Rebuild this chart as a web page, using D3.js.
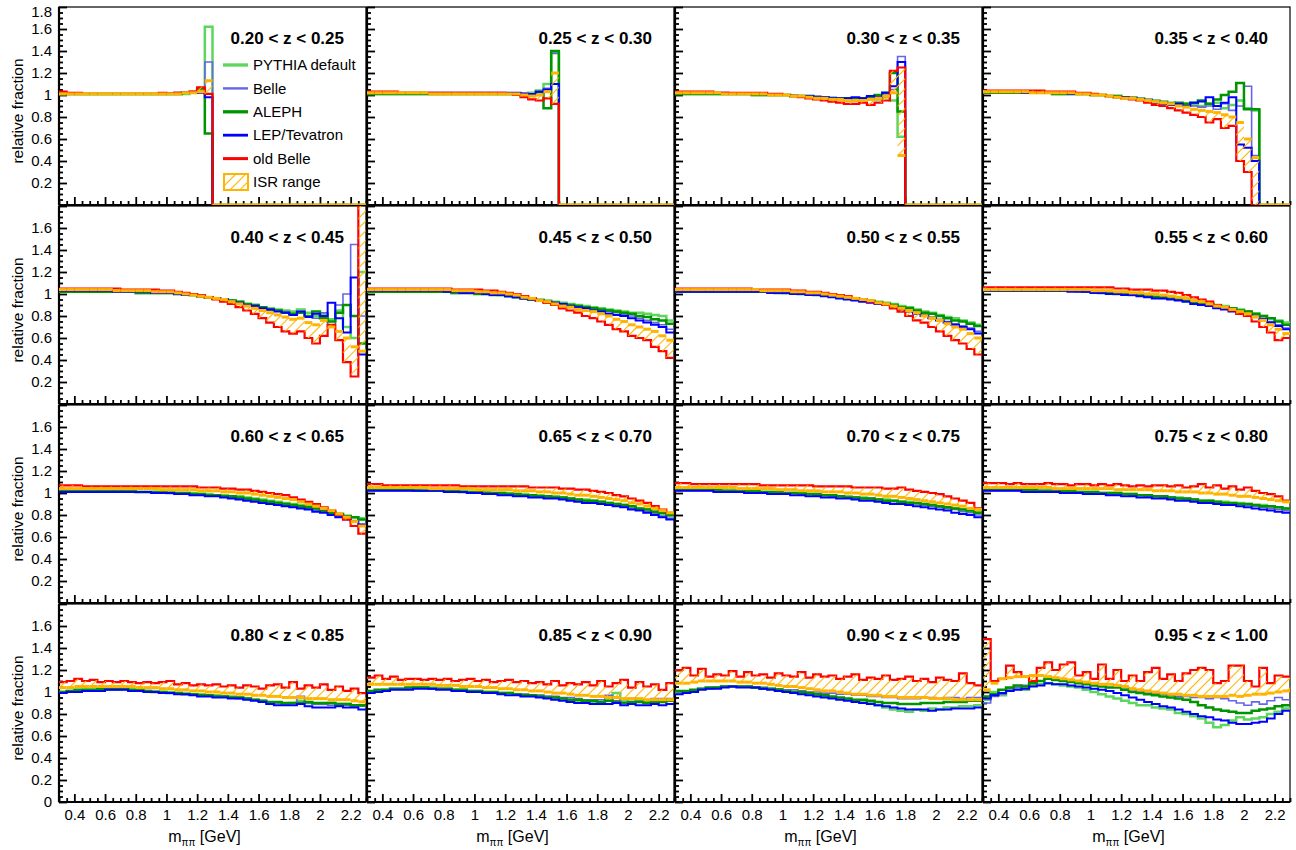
<!DOCTYPE html>
<html>
<head>
<meta charset="utf-8">
<script src="https://cdn.jsdelivr.net/npm/d3@7"></script>
<style>
  body { margin: 0; background: #fff; }
  svg { display: block; font-family: "Liberation Sans", Arial, Helvetica, sans-serif; }
  .axis text { font-size: 15px; font-family: "Liberation Sans", Arial, sans-serif; fill: #000; }
  .axis line { stroke: #000; stroke-width: 1.8; }
</style>
</head>
<body>
<div id="chart"></div>
<script>
// z bins, one panel each
const zEdges = [0.20, 0.25, 0.30, 0.35, 0.40, 0.45, 0.50, 0.55, 0.60, 0.65, 0.70, 0.75, 0.80, 0.85, 0.90, 0.95, 1.00]
// m_pipi bin edges (GeV)
const massEdges = d3.range(41).map(i => +(0.3 + i * 0.05).toFixed(2))
const seriesNames = ['PYTHIA default', 'Belle', 'ALEPH', 'LEP/Tevatron', 'old Belle', 'ISR range']

// relative fraction per mass bin, one row per z panel
const pythiaDefault = [
  [1.01,1.01,1.01,1.01,1.01,1.01,1.01,1.01,1.01,1.01, 1.01,1.01,1.01,1.01,1.01,1.01,1.01,1.02,1.04,1.62, 0,0,0,0,0,0,0,0,0,0, 0,0,0,0,0,0,0,0,0,0],
  [1.01,1.01,1.01,1.01,1.01,1.01,1.01,1.01,1.01,1.01, 1.01,1.01,1.01,1.01,1.01,1.01,1.01,1.01,1.01,1.01, 1.01,1.02,1.04,1.10,1.38,0,0,0,0,0, 0,0,0,0,0,0,0,0,0,0],
  [1.01,1.01,1.01,1.01,1.01,1.01,1.01,1.01,1.01,1.01, 1.00,1.00,1.00,1.00,1.00,0.99,0.99,0.99,0.98,0.98, 0.97,0.97,0.96,0.96,0.96,0.97,0.96,0.98,0.95,0.62, 0,0,0,0,0,0,0,0,0,0],
  [1.02,1.02,1.02,1.02,1.02,1.02,1.02,1.02,1.02,1.01, 1.01,1.01,1.01,1.01,1.00,1.00,0.99,0.99,0.98,0.98, 0.97,0.96,0.95,0.94,0.93,0.92,0.92,0.91,0.90,0.92, 0.93,0.88,0.91,0.95,0.88,0.86,0,0,0,0],
  [1.02,1.02,1.02,1.02,1.02,1.02,1.02,1.02,1.02,1.02, 1.01,1.01,1.01,1.01,1.01,1.00,1.00,0.99,0.98,0.97, 0.96,0.95,0.94,0.93,0.91,0.90,0.88,0.87,0.86,0.85, 0.84,0.86,0.83,0.80,0.82,0.77,0.85,0.70,0.60,1.20],
  [1.02,1.02,1.02,1.02,1.02,1.02,1.02,1.02,1.02,1.02, 1.02,1.01,1.01,1.01,1.01,1.00,1.00,0.99,0.99,0.98, 0.97,0.96,0.95,0.94,0.93,0.92,0.91,0.90,0.89,0.88, 0.87,0.86,0.85,0.84,0.83,0.83,0.82,0.81,0.80,0.76],
  [1.02,1.02,1.02,1.02,1.02,1.02,1.02,1.02,1.02,1.02, 1.02,1.02,1.02,1.02,1.01,1.01,1.01,1.00,1.00,0.99, 0.99,0.98,0.97,0.96,0.95,0.94,0.93,0.92,0.91,0.89, 0.88,0.86,0.84,0.83,0.81,0.79,0.78,0.76,0.74,0.72],
  [1.03,1.03,1.03,1.03,1.03,1.03,1.03,1.03,1.03,1.03, 1.03,1.03,1.03,1.02,1.02,1.02,1.01,1.01,1.00,1.00, 0.99,0.99,0.98,0.97,0.97,0.96,0.95,0.93,0.92,0.91, 0.90,0.89,0.87,0.86,0.84,0.82,0.80,0.78,0.76,0.74],
  [1.02,1.02,1.02,1.02,1.02,1.02,1.02,1.02,1.02,1.02, 1.01,1.01,1.01,1.01,1.01,1.00,1.00,1.00,0.99,0.99, 0.98,0.98,0.97,0.97,0.96,0.95,0.94,0.93,0.92,0.91, 0.90,0.89,0.88,0.86,0.85,0.83,0.81,0.79,0.78,0.77],
  [1.03,1.03,1.03,1.03,1.03,1.03,1.03,1.02,1.02,1.02, 1.02,1.02,1.02,1.01,1.01,1.01,1.00,1.00,1.00,0.99, 0.99,0.98,0.98,0.97,0.97,0.96,0.95,0.94,0.94,0.93, 0.92,0.91,0.90,0.89,0.88,0.86,0.85,0.83,0.81,0.79],
  [1.03,1.03,1.03,1.03,1.03,1.03,1.02,1.02,1.02,1.02, 1.02,1.01,1.01,1.01,1.00,1.00,1.00,0.99,0.99,0.98, 0.98,0.97,0.97,0.96,0.96,0.95,0.94,0.94,0.93,0.92, 0.92,0.91,0.90,0.89,0.88,0.87,0.86,0.85,0.83,0.82],
  [1.03,1.03,1.03,1.03,1.03,1.03,1.03,1.02,1.02,1.02, 1.02,1.02,1.01,1.01,1.01,1.00,1.00,1.00,0.99,0.99, 0.98,0.98,0.97,0.97,0.96,0.96,0.95,0.94,0.93,0.93, 0.92,0.92,0.91,0.91,0.90,0.89,0.89,0.88,0.87,0.86],
  [1.00,1.01,1.01,1.02,1.02,1.02,1.02,1.02,1.03,1.02, 1.02,1.01,1.01,1.00,1.00,0.99,0.99,0.98,0.98,0.97, 0.97,0.96,0.96,0.95,0.94,0.93,0.92,0.90,0.90,0.89, 0.90,0.92,0.90,0.89,0.89,0.90,0.89,0.89,0.88,0.88],
  [1.00,1.01,1.02,1.03,1.03,1.03,1.04,1.04,1.04,1.03, 1.03,1.02,1.02,1.01,1.01,1.00,1.00,0.99,0.99,0.98, 0.98,0.97,0.97,0.96,0.95,0.94,0.93,0.92,0.91,0.91, 0.91,0.92,0.99,0.91,0.91,0.92,0.91,0.90,0.92,0.92],
  [0.99,1.00,1.01,1.03,1.03,1.04,1.05,1.05,1.05,1.05, 1.04,1.04,1.03,1.02,1.01,1.00,0.99,0.98,0.97,0.96, 0.95,0.94,0.93,0.92,0.91,0.90,0.88,0.86,0.84,0.83, 0.82,0.84,0.83,0.85,0.84,0.86,0.86,0.87,0.87,0.88],
  [0.93,1.00,0.97,1.03,1.04,1.02,1.06,1.07,1.08,1.07, 1.06,1.05,1.04,1.02,1.00,0.98,0.96,0.94,0.92,0.90, 0.88,0.88,0.86,0.85,0.84,0.81,0.80,0.78,0.76,0.72, 0.68,0.70,0.74,0.77,0.75,0.76,0.77,0.80,0.82,0.85]
]

const belle = [
  [1.01,1.01,1.01,1.01,1.01,1.01,1.01,1.01,1.01,1.01, 1.01,1.01,1.01,1.01,1.02,1.02,1.02,1.03,1.03,1.30, 0,0,0,0,0,0,0,0,0,0, 0,0,0,0,0,0,0,0,0,0],
  [1.02,1.02,1.02,1.02,1.02,1.02,1.02,1.02,1.02,1.02, 1.02,1.02,1.02,1.02,1.02,1.02,1.02,1.02,1.02,1.02, 1.02,1.01,1.02,1.06,1.38,0,0,0,0,0, 0,0,0,0,0,0,0,0,0,0],
  [1.02,1.02,1.02,1.02,1.02,1.02,1.02,1.01,1.01,1.01, 1.01,1.01,1.01,1.00,1.00,1.00,0.99,0.99,0.99,0.98, 0.98,0.97,0.97,0.97,0.97,0.98,0.98,1.00,1.05,1.35, 0,0,0,0,0,0,0,0,0,0],
  [1.03,1.03,1.03,1.03,1.03,1.03,1.02,1.02,1.02,1.02, 1.02,1.02,1.01,1.01,1.01,1.00,0.99,0.99,0.98,0.98, 0.97,0.96,0.95,0.94,0.93,0.92,0.91,0.90,0.89,0.90, 0.87,0.92,0.86,0.90,1.08,0.45,0,0,0,0],
  [1.03,1.03,1.03,1.03,1.03,1.03,1.03,1.03,1.02,1.02, 1.02,1.02,1.02,1.01,1.01,1.01,1.00,0.99,0.98,0.97, 0.96,0.95,0.94,0.92,0.91,0.89,0.88,0.86,0.85,0.84, 0.82,0.83,0.80,0.78,0.83,0.72,0.90,1.00,1.45,0.80],
  [1.03,1.03,1.03,1.03,1.03,1.03,1.03,1.03,1.03,1.03, 1.02,1.02,1.02,1.01,1.01,1.00,1.00,0.99,0.98,0.97, 0.96,0.95,0.94,0.93,0.92,0.91,0.90,0.89,0.88,0.86, 0.85,0.84,0.83,0.81,0.80,0.78,0.76,0.74,0.72,0.68],
  [1.03,1.03,1.03,1.03,1.03,1.03,1.03,1.03,1.03,1.03, 1.02,1.02,1.02,1.02,1.01,1.01,1.00,1.00,0.99,0.99, 0.98,0.97,0.96,0.95,0.94,0.93,0.92,0.91,0.89,0.87, 0.85,0.83,0.81,0.79,0.77,0.75,0.73,0.71,0.69,0.66],
  [1.03,1.03,1.03,1.03,1.03,1.03,1.03,1.03,1.03,1.03, 1.03,1.03,1.02,1.02,1.02,1.01,1.01,1.00,1.00,0.99, 0.99,0.98,0.97,0.96,0.96,0.95,0.94,0.92,0.91,0.90, 0.88,0.87,0.85,0.84,0.82,0.80,0.78,0.75,0.72,0.69],
  [1.02,1.02,1.02,1.02,1.02,1.02,1.02,1.02,1.02,1.02, 1.01,1.01,1.01,1.01,1.00,1.00,0.99,0.99,0.98,0.98, 0.97,0.97,0.96,0.95,0.94,0.93,0.92,0.91,0.90,0.89, 0.88,0.87,0.86,0.84,0.83,0.81,0.79,0.77,0.75,0.72],
  [1.02,1.02,1.02,1.02,1.02,1.02,1.02,1.02,1.02,1.02, 1.01,1.01,1.01,1.01,1.00,1.00,0.99,0.99,0.99,0.98, 0.98,0.97,0.97,0.96,0.96,0.95,0.94,0.93,0.93,0.92, 0.91,0.90,0.89,0.88,0.86,0.85,0.83,0.81,0.79,0.77],
  [1.02,1.02,1.02,1.02,1.02,1.02,1.02,1.02,1.02,1.01, 1.01,1.01,1.01,1.00,1.00,1.00,0.99,0.99,0.98,0.98, 0.97,0.97,0.96,0.96,0.95,0.95,0.94,0.93,0.92,0.92, 0.91,0.90,0.89,0.88,0.87,0.86,0.85,0.83,0.82,0.80],
  [1.02,1.02,1.02,1.02,1.02,1.02,1.02,1.02,1.02,1.01, 1.01,1.01,1.01,1.00,1.00,1.00,0.99,0.99,0.99,0.98, 0.98,0.97,0.97,0.96,0.96,0.95,0.94,0.94,0.93,0.92, 0.92,0.91,0.90,0.90,0.89,0.88,0.87,0.86,0.85,0.84],
  [1.00,1.00,1.01,1.01,1.02,1.02,1.02,1.02,1.02,1.02, 1.01,1.01,1.00,1.00,0.99,0.99,0.98,0.98,0.97,0.97, 0.96,0.96,0.95,0.94,0.94,0.93,0.92,0.91,0.90,0.90, 0.90,0.96,0.90,0.89,0.89,0.88,0.88,0.88,0.87,0.87],
  [1.01,1.02,1.02,1.03,1.03,1.03,1.04,1.04,1.03,1.03, 1.03,1.02,1.02,1.01,1.01,1.00,1.00,0.99,0.99,0.98, 0.98,0.97,0.97,0.96,0.96,0.95,0.95,0.94,0.93,0.93, 0.93,0.97,0.92,0.93,0.94,0.93,0.93,0.94,0.94,0.94],
  [1.00,1.01,1.02,1.03,1.04,1.04,1.05,1.05,1.05,1.05, 1.04,1.04,1.03,1.03,1.02,1.02,1.01,1.00,1.00,0.99, 0.99,0.98,0.98,0.97,0.97,0.96,0.96,0.95,0.95,0.94, 0.94,0.94,0.95,0.95,0.94,0.95,0.95,0.94,0.95,0.95],
  [0.90,0.96,0.98,1.03,1.04,1.06,1.09,1.10,1.12,1.11, 1.10,1.10,1.09,1.08,1.08,1.07,1.07,1.06,1.04,1.02, 1.01,1.00,0.99,0.98,0.97,0.96,0.96,0.95,0.95,0.94, 0.95,0.94,0.92,0.90,0.88,0.91,0.89,0.92,0.95,0.93]
]

const aleph = [
  [1.01,1.01,1.01,1.01,1.01,1.01,1.01,1.01,1.01,1.01, 1.01,1.01,1.01,1.01,1.01,1.01,1.02,1.02,1.06,0.65, 0,0,0,0,0,0,0,0,0,0, 0,0,0,0,0,0,0,0,0,0],
  [1.01,1.01,1.01,1.01,1.01,1.01,1.01,1.01,1.01,1.01, 1.01,1.01,1.01,1.01,1.01,1.01,1.01,1.01,1.01,1.01, 1.00,1.00,1.03,0.88,1.40,0,0,0,0,0, 0,0,0,0,0,0,0,0,0,0],
  [1.01,1.01,1.01,1.01,1.01,1.01,1.01,1.01,1.01,1.01, 1.00,1.00,1.00,1.00,1.00,0.99,0.99,0.99,0.98,0.98, 0.97,0.97,0.97,0.96,0.97,0.98,1.00,1.02,1.20,0.85, 0,0,0,0,0,0,0,0,0,0],
  [1.02,1.02,1.02,1.02,1.02,1.02,1.02,1.02,1.02,1.01, 1.01,1.01,1.01,1.01,1.00,1.00,0.99,0.99,0.98,0.97, 0.96,0.95,0.94,0.93,0.92,0.93,0.92,0.93,0.95,0.92, 0.96,1.00,1.03,1.11,0.87,0.87,0,0,0,0],
  [1.02,1.02,1.02,1.02,1.02,1.02,1.02,1.02,1.02,1.02, 1.01,1.01,1.01,1.01,1.01,1.00,1.00,0.99,0.98,0.97, 0.96,0.95,0.94,0.93,0.91,0.90,0.88,0.86,0.85,0.83, 0.82,0.83,0.80,0.84,0.78,0.75,0.83,0.90,0.80,0.55],
  [1.02,1.02,1.02,1.02,1.02,1.02,1.02,1.02,1.02,1.02, 1.02,1.01,1.01,1.01,1.00,1.00,0.99,0.99,0.98,0.97, 0.96,0.95,0.94,0.93,0.92,0.91,0.90,0.89,0.88,0.87, 0.86,0.85,0.84,0.83,0.82,0.80,0.79,0.77,0.76,0.73],
  [1.02,1.02,1.02,1.02,1.02,1.02,1.02,1.02,1.02,1.02, 1.02,1.02,1.02,1.01,1.01,1.01,1.00,1.00,0.99,0.99, 0.98,0.97,0.96,0.95,0.94,0.93,0.92,0.91,0.90,0.88, 0.87,0.85,0.83,0.82,0.80,0.78,0.76,0.75,0.73,0.71],
  [1.03,1.03,1.03,1.03,1.03,1.03,1.03,1.03,1.03,1.03, 1.03,1.03,1.03,1.02,1.02,1.01,1.01,1.00,1.00,0.99, 0.99,0.98,0.97,0.97,0.96,0.95,0.94,0.93,0.92,0.91, 0.89,0.88,0.87,0.85,0.84,0.82,0.80,0.78,0.75,0.72],
  [1.02,1.02,1.02,1.02,1.02,1.02,1.02,1.02,1.02,1.02, 1.01,1.01,1.01,1.01,1.00,1.00,1.00,0.99,0.99,0.98, 0.98,0.97,0.97,0.96,0.95,0.94,0.93,0.92,0.91,0.90, 0.89,0.88,0.87,0.86,0.84,0.82,0.81,0.79,0.78,0.76],
  [1.03,1.03,1.03,1.03,1.03,1.03,1.02,1.02,1.02,1.02, 1.02,1.02,1.01,1.01,1.01,1.00,1.00,1.00,0.99,0.99, 0.98,0.98,0.97,0.97,0.96,0.96,0.95,0.94,0.93,0.93, 0.92,0.91,0.90,0.89,0.88,0.86,0.85,0.83,0.82,0.80],
  [1.03,1.03,1.03,1.03,1.03,1.03,1.02,1.02,1.02,1.02, 1.02,1.01,1.01,1.01,1.00,1.00,1.00,0.99,0.99,0.98, 0.98,0.97,0.96,0.96,0.95,0.95,0.94,0.93,0.93,0.92, 0.91,0.91,0.90,0.89,0.88,0.87,0.86,0.85,0.84,0.82],
  [1.03,1.03,1.03,1.03,1.03,1.03,1.03,1.02,1.02,1.02, 1.02,1.02,1.01,1.01,1.01,1.00,1.00,1.00,0.99,0.99, 0.98,0.98,0.97,0.97,0.96,0.95,0.95,0.94,0.93,0.93, 0.92,0.91,0.91,0.90,0.90,0.89,0.88,0.88,0.87,0.86],
  [1.00,1.01,1.02,1.02,1.02,1.03,1.03,1.03,1.03,1.02, 1.02,1.01,1.00,1.00,0.99,0.99,0.98,0.98,0.97,0.97, 0.96,0.96,0.95,0.95,0.94,0.93,0.92,0.91,0.91,0.90, 0.90,0.90,0.91,0.90,0.90,0.90,0.89,0.89,0.88,0.88],
  [1.01,1.02,1.02,1.03,1.03,1.04,1.04,1.04,1.03,1.03, 1.03,1.02,1.02,1.01,1.01,1.00,1.00,0.99,0.99,0.98, 0.97,0.97,0.96,0.95,0.95,0.94,0.93,0.93,0.92,0.92, 0.91,0.92,0.91,0.90,0.91,0.91,0.90,0.91,0.91,0.92],
  [1.01,1.01,1.02,1.03,1.04,1.04,1.05,1.05,1.05,1.05, 1.04,1.03,1.03,1.02,1.01,1.00,1.00,0.99,0.98,0.97, 0.96,0.95,0.94,0.93,0.93,0.92,0.91,0.90,0.90,0.89, 0.89,0.89,0.90,0.90,0.90,0.91,0.91,0.91,0.92,0.92],
  [0.96,0.98,1.02,1.04,1.06,1.05,1.08,1.10,1.12,1.11, 1.10,1.09,1.08,1.07,1.06,1.05,1.04,1.04,1.02,1.00, 0.99,0.98,0.97,0.96,0.95,0.94,0.93,0.91,0.88,0.86, 0.84,0.83,0.82,0.81,0.81,0.83,0.84,0.85,0.87,0.88]
]

const lepTevatron = [
  [1.01,1.01,1.01,1.01,1.01,1.01,1.01,1.01,1.01,1.01, 1.01,1.01,1.01,1.01,1.01,1.02,1.02,1.03,1.02,0.98, 0,0,0,0,0,0,0,0,0,0, 0,0,0,0,0,0,0,0,0,0],
  [1.02,1.02,1.02,1.02,1.02,1.02,1.02,1.02,1.02,1.02, 1.02,1.02,1.02,1.02,1.02,1.02,1.02,1.02,1.02,1.02, 1.01,1.01,1.03,1.05,1.10,0,0,0,0,0, 0,0,0,0,0,0,0,0,0,0],
  [1.02,1.02,1.02,1.02,1.02,1.02,1.02,1.01,1.01,1.01, 1.01,1.01,1.00,1.00,1.00,0.99,0.99,0.99,0.98,0.98, 0.97,0.97,0.97,0.98,0.97,0.99,0.98,1.02,1.08,1.30, 0,0,0,0,0,0,0,0,0,0],
  [1.03,1.03,1.03,1.03,1.03,1.02,1.02,1.02,1.02,1.02, 1.02,1.01,1.01,1.01,1.00,1.00,0.99,0.98,0.98,0.97, 0.96,0.95,0.93,0.92,0.91,0.92,0.90,0.93,0.94,0.98, 0.90,0.93,0.98,0.55,0.52,0.40,0,0,0,0],
  [1.03,1.03,1.03,1.03,1.03,1.03,1.03,1.02,1.02,1.02, 1.02,1.02,1.01,1.01,1.01,1.00,0.99,0.99,0.98,0.97, 0.96,0.95,0.93,0.92,0.90,0.89,0.87,0.86,0.84,0.83, 0.81,0.84,0.79,0.82,0.80,0.92,0.78,0.65,1.15,0.45],
  [1.03,1.03,1.03,1.03,1.03,1.03,1.03,1.03,1.03,1.03, 1.02,1.02,1.01,1.01,1.01,1.00,0.99,0.99,0.98,0.97, 0.96,0.95,0.94,0.93,0.92,0.91,0.89,0.88,0.87,0.85, 0.84,0.82,0.81,0.80,0.78,0.76,0.74,0.72,0.70,0.65],
  [1.02,1.02,1.02,1.02,1.02,1.02,1.02,1.02,1.02,1.02, 1.02,1.02,1.01,1.01,1.01,1.00,1.00,0.99,0.99,0.98, 0.97,0.96,0.95,0.94,0.93,0.92,0.91,0.90,0.88,0.86, 0.84,0.82,0.80,0.78,0.76,0.74,0.72,0.70,0.68,0.64],
  [1.03,1.03,1.03,1.03,1.03,1.03,1.03,1.03,1.03,1.03, 1.03,1.02,1.02,1.02,1.01,1.01,1.00,1.00,0.99,0.99, 0.98,0.97,0.96,0.96,0.95,0.94,0.93,0.91,0.90,0.89, 0.87,0.86,0.84,0.83,0.81,0.79,0.77,0.74,0.71,0.68],
  [1.01,1.01,1.01,1.01,1.01,1.01,1.01,1.01,1.01,1.01, 1.01,1.01,1.00,1.00,1.00,0.99,0.99,0.98,0.98,0.97, 0.97,0.96,0.95,0.94,0.93,0.92,0.91,0.90,0.89,0.88, 0.87,0.86,0.85,0.83,0.82,0.80,0.78,0.76,0.74,0.71],
  [1.02,1.02,1.02,1.02,1.02,1.02,1.02,1.02,1.02,1.02, 1.01,1.01,1.01,1.00,1.00,0.99,0.99,0.98,0.98,0.97, 0.97,0.96,0.96,0.95,0.95,0.94,0.93,0.92,0.91,0.91, 0.90,0.89,0.88,0.87,0.85,0.84,0.82,0.80,0.78,0.76],
  [1.02,1.02,1.02,1.02,1.02,1.01,1.01,1.01,1.01,1.00, 1.00,1.00,0.99,0.99,0.99,0.98,0.98,0.97,0.97,0.96, 0.96,0.95,0.95,0.94,0.93,0.93,0.92,0.91,0.90,0.90, 0.89,0.88,0.87,0.86,0.85,0.84,0.82,0.81,0.80,0.78],
  [1.02,1.02,1.02,1.02,1.02,1.01,1.01,1.01,1.01,1.01, 1.00,1.00,1.00,0.99,0.99,0.99,0.98,0.98,0.97,0.97, 0.96,0.96,0.95,0.95,0.94,0.93,0.93,0.92,0.91,0.91, 0.90,0.89,0.89,0.88,0.87,0.86,0.85,0.84,0.83,0.82],
  [0.99,1.00,1.00,1.01,1.01,1.01,1.02,1.02,1.02,1.01, 1.01,1.00,1.00,0.99,0.99,0.98,0.98,0.97,0.96,0.96, 0.95,0.95,0.94,0.94,0.93,0.92,0.91,0.89,0.88,0.88, 0.88,0.89,0.87,0.86,0.86,0.86,0.87,0.86,0.86,0.84],
  [0.99,1.00,1.01,1.02,1.02,1.02,1.03,1.03,1.03,1.02, 1.02,1.01,1.01,1.00,1.00,0.99,0.99,0.98,0.97,0.97, 0.96,0.96,0.95,0.94,0.93,0.92,0.91,0.90,0.90,0.89, 0.89,0.89,0.90,0.88,0.89,0.88,0.88,0.89,0.88,0.89],
  [0.98,0.99,1.00,1.02,1.03,1.03,1.04,1.05,1.04,1.04, 1.04,1.03,1.02,1.01,1.00,0.99,0.98,0.97,0.96,0.95, 0.94,0.93,0.92,0.91,0.90,0.89,0.88,0.87,0.86,0.85, 0.84,0.84,0.84,0.83,0.84,0.84,0.85,0.85,0.85,0.86],
  [0.94,0.97,0.99,1.01,1.02,1.03,1.05,1.06,1.08,1.07, 1.07,1.06,1.05,1.04,1.03,1.02,1.01,0.99,0.97,0.95, 0.93,0.91,0.89,0.87,0.86,0.84,0.82,0.80,0.78,0.77, 0.75,0.74,0.72,0.71,0.71,0.72,0.73,0.76,0.80,0.83]
]

const oldBelle = [
  [1.03,1.02,1.02,1.01,1.01,1.01,1.01,1.01,1.01,1.01, 1.01,1.01,1.01,1.02,1.01,1.02,1.02,1.03,1.07,1.01, 0,0,0,0,0,0,0,0,0,0, 0,0,0,0,0,0,0,0,0,0],
  [1.03,1.03,1.03,1.03,1.02,1.02,1.02,1.02,1.02,1.02, 1.02,1.02,1.02,1.02,1.02,1.02,1.02,1.02,1.01,1.00, 0.98,0.96,0.95,0.97,0.92,0,0,0,0,0, 0,0,0,0,0,0,0,0,0,0],
  [1.03,1.03,1.03,1.03,1.03,1.02,1.02,1.02,1.02,1.02, 1.02,1.02,1.01,1.01,1.00,0.99,0.98,0.97,0.96,0.95, 0.94,0.93,0.92,0.92,0.93,0.91,0.93,0.95,1.22,1.25, 0,0,0,0,0,0,0,0,0,0],
  [1.04,1.04,1.04,1.04,1.04,1.04,1.04,1.04,1.03,1.03, 1.03,1.03,1.02,1.02,1.01,1.00,0.99,0.98,0.97,0.96, 0.95,0.93,0.91,0.90,0.88,0.86,0.84,0.82,0.80,0.75, 0.78,0.70,0.72,0.40,0.30,0,0,0,0,0],
  [1.05,1.05,1.05,1.05,1.05,1.05,1.05,1.05,1.04,1.04, 1.04,1.04,1.04,1.03,1.03,1.02,1.01,1.00,0.99,0.97, 0.95,0.93,0.91,0.88,0.85,0.82,0.78,0.74,0.70,0.66, 0.64,0.66,0.60,0.55,0.62,0.72,0.58,0.38,0.25,1.85],
  [1.05,1.05,1.05,1.05,1.05,1.05,1.05,1.05,1.05,1.05, 1.05,1.04,1.04,1.04,1.04,1.03,1.03,1.02,1.01,1.00, 0.98,0.96,0.94,0.92,0.90,0.87,0.85,0.83,0.80,0.78, 0.75,0.72,0.68,0.66,0.62,0.60,0.58,0.52,0.48,0.42],
  [1.05,1.05,1.05,1.05,1.05,1.05,1.05,1.05,1.05,1.05, 1.04,1.04,1.04,1.04,1.04,1.03,1.03,1.02,1.02,1.01, 1.00,0.99,0.98,0.96,0.95,0.93,0.92,0.90,0.87,0.84, 0.80,0.76,0.74,0.70,0.66,0.62,0.58,0.55,0.50,0.45],
  [1.06,1.06,1.06,1.06,1.06,1.06,1.06,1.06,1.06,1.06, 1.06,1.06,1.06,1.06,1.06,1.06,1.06,1.05,1.05,1.04, 1.04,1.04,1.03,1.03,1.02,1.01,0.99,0.97,0.95,0.93, 0.90,0.88,0.85,0.82,0.80,0.75,0.70,0.65,0.58,0.60],
  [1.07,1.07,1.07,1.06,1.06,1.06,1.06,1.06,1.06,1.06, 1.06,1.06,1.06,1.06,1.06,1.06,1.06,1.06,1.05,1.05, 1.05,1.04,1.04,1.03,1.03,1.02,1.01,1.00,0.99,0.98, 0.96,0.94,0.92,0.90,0.87,0.84,0.80,0.76,0.70,0.63],
  [1.08,1.08,1.07,1.07,1.07,1.07,1.07,1.07,1.07,1.07, 1.07,1.07,1.06,1.06,1.06,1.06,1.06,1.06,1.06,1.06, 1.06,1.05,1.05,1.05,1.05,1.04,1.04,1.03,1.03,1.02, 1.01,1.00,0.98,0.97,0.95,0.93,0.91,0.88,0.85,0.82],
  [1.09,1.09,1.08,1.08,1.08,1.08,1.08,1.08,1.08,1.08, 1.08,1.07,1.07,1.07,1.07,1.07,1.07,1.07,1.06,1.06, 1.06,1.06,1.06,1.05,1.05,1.05,1.05,1.04,1.04,1.05, 1.03,1.02,1.01,1.00,0.99,0.97,0.95,0.93,0.91,0.86],
  [1.09,1.09,1.09,1.08,1.09,1.08,1.08,1.08,1.09,1.08, 1.08,1.07,1.08,1.08,1.07,1.08,1.07,1.08,1.07,1.06, 1.07,1.06,1.07,1.07,1.06,1.07,1.05,1.06,1.08,1.05, 1.07,1.04,1.06,1.03,1.05,1.02,1.00,0.99,0.97,0.93],
  [1.09,1.10,1.12,1.10,1.11,1.09,1.10,1.09,1.10,1.09, 1.08,1.09,1.08,1.09,1.10,1.07,1.08,1.06,1.07,1.06, 1.07,1.05,1.06,1.04,1.06,1.05,1.03,1.06,1.07,1.04, 1.09,1.03,1.06,1.04,1.07,1.02,1.05,1.01,1.03,0.99],
  [1.13,1.15,1.12,1.14,1.11,1.12,1.12,1.11,1.12,1.11, 1.12,1.10,1.11,1.12,1.10,1.11,1.09,1.10,1.11,1.09, 1.10,1.08,1.09,1.07,1.10,1.06,1.08,1.07,1.09,1.06, 1.10,1.05,1.08,1.11,1.04,1.09,1.05,1.07,1.02,1.08],
  [1.20,1.22,1.15,1.21,1.14,1.16,1.15,1.19,1.14,1.18, 1.15,1.16,1.13,1.17,1.15,1.14,1.18,1.13,1.16,1.14, 1.15,1.12,1.14,1.16,1.11,1.13,1.12,1.15,1.11,1.12, 1.14,1.10,1.12,1.09,1.13,1.11,1.10,1.17,1.08,1.06],
  [1.48,1.10,1.12,1.24,1.18,1.14,1.10,1.22,1.27,1.20, 1.25,1.27,1.15,1.18,1.12,1.25,1.12,1.20,1.10,1.15, 1.10,1.18,1.22,1.12,1.16,1.10,1.17,1.20,1.22,1.20, 1.08,1.10,1.24,1.24,1.10,1.05,1.22,1.08,1.15,1.14]
]

// ISR variation; the hatched band spans from this curve to old Belle
const isrRange = [
  [1.01,1.01,1.01,1.01,1.01,1.01,1.01,1.01,1.01,1.01, 1.01,1.01,1.01,1.01,1.01,1.01,1.02,1.02,1.03,1.13, 0,0,0,0,0,0,0,0,0,0, 0,0,0,0,0,0,0,0,0,0],
  [1.02,1.02,1.02,1.02,1.02,1.02,1.02,1.02,1.01,1.01, 1.01,1.01,1.01,1.01,1.01,1.01,1.01,1.01,1.01,1.01, 1.00,0.99,1.00,1.03,1.20,0,0,0,0,0, 0,0,0,0,0,0,0,0,0,0],
  [1.02,1.02,1.02,1.02,1.02,1.02,1.01,1.01,1.01,1.01, 1.01,1.01,1.00,1.00,1.00,0.99,0.99,0.98,0.97,0.97, 0.96,0.96,0.95,0.95,0.95,0.96,0.97,0.99,1.02,0.45, 0,0,0,0,0,0,0,0,0,0],
  [1.03,1.03,1.03,1.03,1.03,1.03,1.02,1.02,1.02,1.02, 1.02,1.02,1.01,1.01,1.00,1.00,0.99,0.98,0.97,0.97, 0.96,0.95,0.94,0.93,0.92,0.90,0.89,0.87,0.86,0.85, 0.84,0.82,0.80,0.75,0.60,0.43,0,0,0,0],
  [1.04,1.04,1.04,1.04,1.04,1.04,1.04,1.03,1.03,1.03, 1.03,1.03,1.02,1.02,1.02,1.01,1.00,0.99,0.98,0.97, 0.96,0.95,0.93,0.91,0.89,0.87,0.85,0.83,0.81,0.79, 0.77,0.78,0.74,0.72,0.76,0.70,0.66,0.60,0.52,0.48],
  [1.04,1.04,1.04,1.04,1.04,1.04,1.04,1.04,1.04,1.04, 1.04,1.03,1.03,1.03,1.02,1.02,1.01,1.01,1.00,0.99, 0.97,0.96,0.94,0.93,0.91,0.89,0.88,0.86,0.85,0.84, 0.82,0.80,0.77,0.75,0.72,0.70,0.68,0.66,0.62,0.58],
  [1.04,1.04,1.04,1.04,1.04,1.04,1.04,1.04,1.04,1.04, 1.04,1.03,1.03,1.03,1.03,1.02,1.02,1.01,1.01,1.00, 0.99,0.98,0.97,0.96,0.95,0.94,0.92,0.91,0.89,0.87, 0.85,0.83,0.80,0.78,0.76,0.73,0.70,0.68,0.64,0.60],
  [1.04,1.04,1.04,1.04,1.04,1.04,1.04,1.04,1.04,1.04, 1.04,1.04,1.04,1.04,1.03,1.03,1.03,1.02,1.02,1.01, 1.01,1.00,1.00,0.99,0.98,0.97,0.96,0.94,0.93,0.91, 0.89,0.88,0.86,0.84,0.82,0.79,0.76,0.72,0.68,0.64],
  [1.04,1.04,1.04,1.04,1.04,1.04,1.04,1.04,1.04,1.04, 1.04,1.04,1.04,1.03,1.03,1.03,1.03,1.03,1.02,1.02, 1.02,1.01,1.01,1.00,1.00,0.99,0.98,0.97,0.96,0.95, 0.94,0.92,0.90,0.88,0.86,0.84,0.81,0.78,0.74,0.70],
  [1.05,1.05,1.05,1.05,1.05,1.05,1.05,1.05,1.04,1.04, 1.04,1.04,1.04,1.04,1.03,1.03,1.03,1.03,1.03,1.02, 1.02,1.02,1.01,1.01,1.00,1.00,0.99,0.98,0.98,0.97, 0.96,0.95,0.94,0.93,0.91,0.90,0.88,0.86,0.84,0.82],
  [1.05,1.05,1.05,1.05,1.05,1.05,1.05,1.05,1.04,1.04, 1.04,1.04,1.04,1.03,1.03,1.03,1.02,1.02,1.02,1.01, 1.01,1.01,1.00,1.00,0.99,0.99,0.98,0.97,0.97,0.96, 0.95,0.94,0.93,0.92,0.91,0.90,0.89,0.88,0.86,0.85],
  [1.05,1.05,1.05,1.05,1.05,1.05,1.05,1.05,1.05,1.04, 1.04,1.04,1.04,1.04,1.04,1.04,1.04,1.03,1.03,1.03, 1.03,1.03,1.02,1.02,1.02,1.01,1.01,1.01,1.00,1.00, 0.99,0.99,0.98,0.97,0.97,0.96,0.95,0.94,0.93,0.92],
  [1.04,1.04,1.05,1.05,1.05,1.05,1.05,1.05,1.05,1.05, 1.04,1.04,1.04,1.03,1.03,1.02,1.02,1.01,1.01,1.00, 1.00,0.99,0.99,0.98,0.98,0.97,0.97,0.96,0.96,0.95, 0.95,0.95,0.94,0.94,0.94,0.93,0.93,0.93,0.92,0.91],
  [1.07,1.07,1.07,1.07,1.07,1.07,1.07,1.07,1.07,1.06, 1.06,1.06,1.05,1.05,1.05,1.04,1.04,1.03,1.03,1.02, 1.02,1.01,1.01,1.00,0.99,0.99,0.98,0.97,0.97,0.96, 0.96,0.95,0.95,0.94,0.94,0.94,0.93,0.93,0.93,0.93],
  [1.08,1.08,1.09,1.10,1.10,1.10,1.10,1.10,1.09,1.09, 1.08,1.08,1.07,1.06,1.05,1.05,1.04,1.03,1.02,1.01, 1.01,1.00,0.99,0.98,0.98,0.97,0.97,0.96,0.96,0.95, 0.95,0.95,0.95,0.94,0.94,0.94,0.93,0.93,0.93,0.93],
  [1.02,1.08,1.12,1.13,1.14,1.14,1.15,1.15,1.14,1.13, 1.12,1.11,1.10,1.09,1.08,1.07,1.07,1.06,1.05,1.03, 1.02,1.01,1.00,0.99,0.98,0.98,0.97,0.97,0.96,0.96, 0.96,0.96,0.97,0.96,0.97,0.98,0.98,0.99,1.00,1.01]
]

const yMajor = d3.range(10).map(i => +(i * 0.2).toFixed(1))
const yMinor = d3.range(37).map(i => +(i * 0.05).toFixed(2)).filter(v => !yMajor.includes(v))
const xMajor = d3.range(2, 12).map(i => +(i * 0.2).toFixed(1))
const xMinor = d3.range(6, 47).map(i => +(i * 0.05).toFixed(2)).filter(v => !xMajor.includes(v))

const margin = {top: 7, left: 59}
const panelW = 307, panelH = 198, stepX = 308, stepY = 199
const orange = '#ffb400'

// drawn in legend order, ISR on top
const lines = [
  {values: pythiaDefault, color: '#5cd65c', width: 2.5},
  {values: belle, color: '#6666e8', width: 1.6},
  {values: aleph, color: '#009400', width: 2.5},
  {values: lepTevatron, color: '#0000ff', width: 2},
  {values: oldBelle, color: '#ff0000', width: 2.2}
]

const x = d3.scaleLinear().domain([0.3, 2.3]).range([0, panelW])
const y = d3.scaleLinear().domain([0, 1.8]).range([panelH, 0])
const fmt = v => Number.isInteger(v) ? String(v) : v.toFixed(1)

const svg = d3.select('#chart').append('svg')
  .attr('width', 1296)
  .attr('height', 850)

svg.append('defs').append('pattern')
  .attr('id', 'isrHatch')
  .attr('patternUnits', 'userSpaceOnUse')
  .attr('width', 7)
  .attr('height', 7)
  .attr('patternTransform', 'rotate(45)')
  .append('line')
    .attr('x1', 3.5).attr('x2', 3.5)
    .attr('y1', 0).attr('y2', 7)
    .attr('stroke', orange)
    .attr('stroke-width', 1.1)

const histPath = vals => d3.line()
  .x(m => x(m))
  .y((m, j) => y(vals[Math.min(j, vals.length - 1)]))
  .curve(d3.curveStepAfter)(massEdges)

const bandPath = (lo, hi) => d3.area()
  .x(m => x(m))
  .y0((m, j) => y(lo[Math.min(j, lo.length - 1)]))
  .y1((m, j) => y(hi[Math.min(j, hi.length - 1)]))
  .curve(d3.curveStepAfter)(massEdges)

zEdges.slice(0, -1).forEach((zLo, i) => {
  const row = Math.floor(i / 4)
  const col = i % 4
  const g = svg.append('g')
    .attr('transform', `translate(${margin.left + col * stepX}, ${margin.top + row * stepY})`)

  // y axis, ticks pointing inward
  const showY = d => col === 0 && !(row > 0 && d === 1.8) && !(row < 3 && d === 0)
  const yAx = g.append('g').attr('class', 'axis')
    .call(d3.axisLeft(y).tickValues(yMajor).tickSize(-8).tickPadding(7)
      .tickFormat(d => showY(d) ? fmt(d) : ''))
  yAx.select('.domain').remove()
  // keep the top label inside the page
  yAx.selectAll('.tick text').filter(d => d === 1.8).attr('dy', '0.6em')
  g.append('g').attr('class', 'axis')
    .call(d3.axisLeft(y).tickValues(yMinor).tickSize(-4).tickFormat(''))
    .select('.domain').remove()

  const xAx = g.append('g').attr('class', 'axis')
    .attr('transform', `translate(0, ${panelH})`)
    .call(d3.axisBottom(x).tickValues(xMajor).tickSize(-8).tickPadding(7)
      .tickFormat(d => row === 3 ? fmt(d) : ''))
  xAx.select('.domain').remove()
  g.append('g').attr('class', 'axis')
    .attr('transform', `translate(0, ${panelH})`)
    .call(d3.axisBottom(x).tickValues(xMinor).tickSize(-4).tickFormat(''))
    .select('.domain').remove()

  g.append('rect')
    .attr('width', panelW)
    .attr('height', panelH)
    .attr('fill', 'none')
    .attr('stroke', '#000')
    .attr('stroke-width', 1.2)
  g.append('line').attr('x1', 0).attr('x2', 0).attr('y1', 0).attr('y2', panelH)
    .attr('stroke', '#000').attr('stroke-width', 2.2)
  g.append('line').attr('x1', 0).attr('x2', panelW).attr('y1', panelH).attr('y2', panelH)
    .attr('stroke', '#000').attr('stroke-width', 2.2)

  g.append('clipPath').attr('id', `clip${i}`)
    .append('rect').attr('width', panelW).attr('height', panelH)
  const plot = g.append('g').attr('clip-path', `url(#clip${i})`)

  lines.forEach(s => {
    plot.append('path')
      .attr('d', histPath(s.values[i]))
      .attr('fill', 'none')
      .attr('stroke', s.color)
      .attr('stroke-width', s.width)
  })

  plot.append('path')
    .attr('d', bandPath(isrRange[i], oldBelle[i]))
    .attr('fill', 'url(#isrHatch)')
    .attr('stroke', 'none')

  plot.selectAll('.isr')
    .data(isrRange[i])
    .join('line')
      .attr('class', 'isr')
      .attr('x1', (d, j) => x(massEdges[j]))
      .attr('x2', (d, j) => x(massEdges[j + 1]))
      .attr('y1', d => y(d))
      .attr('y2', d => y(d))
      .attr('stroke', orange)
      .attr('stroke-width', 3)

  g.append('text')
    .attr('x', panelW - 22)
    .attr('y', 37)
    .attr('text-anchor', 'end')
    .attr('font-weight', 'bold')
    .attr('font-size', 17)
    .text(`${zLo.toFixed(2)} < z < ${zEdges[i + 1].toFixed(2)}`)

  if (col === 0) {
    g.append('text')
      .attr('transform', `translate(-36, ${panelH / 2 + 5}) rotate(-90)`)
      .attr('text-anchor', 'middle')
      .attr('font-size', 15.5)
      .text('relative fraction')
  }
  if (row === 3) {
    const t = g.append('text')
      .attr('x', panelW / 2 - 8)
      .attr('y', panelH + 40)
      .attr('text-anchor', 'middle')
      .attr('font-size', 16)
    t.append('tspan').text('m')
    t.append('tspan').attr('font-size', 10).attr('dy', 4).text('ππ')
    t.append('tspan').attr('dy', -4).text(' [GeV]')
  }

  if (i === 0) {
    const leg = g.append('g').attr('transform', 'translate(164, 58)')
    const items = leg.selectAll('g')
      .data(seriesNames)
      .join('g')
        .attr('transform', (d, k) => `translate(0, ${k * 23.4})`)
    items.filter((d, k) => k < 5).append('line')
      .attr('x1', 0).attr('x2', 25)
      .attr('stroke', (d, k) => lines[k].color)
      .attr('stroke-width', (d, k) => lines[k].width + 0.8)
    items.filter((d, k) => k === 5).append('rect')
      .attr('x', 1).attr('y', -8).attr('width', 24).attr('height', 16)
      .attr('fill', 'url(#isrHatch)')
      .attr('stroke', orange)
      .attr('stroke-width', 2)
    items.append('text')
      .attr('x', 30)
      .attr('dy', '0.35em')
      .attr('font-size', 15)
      .text(d => d)
  }
})
</script>
</body>
</html>
